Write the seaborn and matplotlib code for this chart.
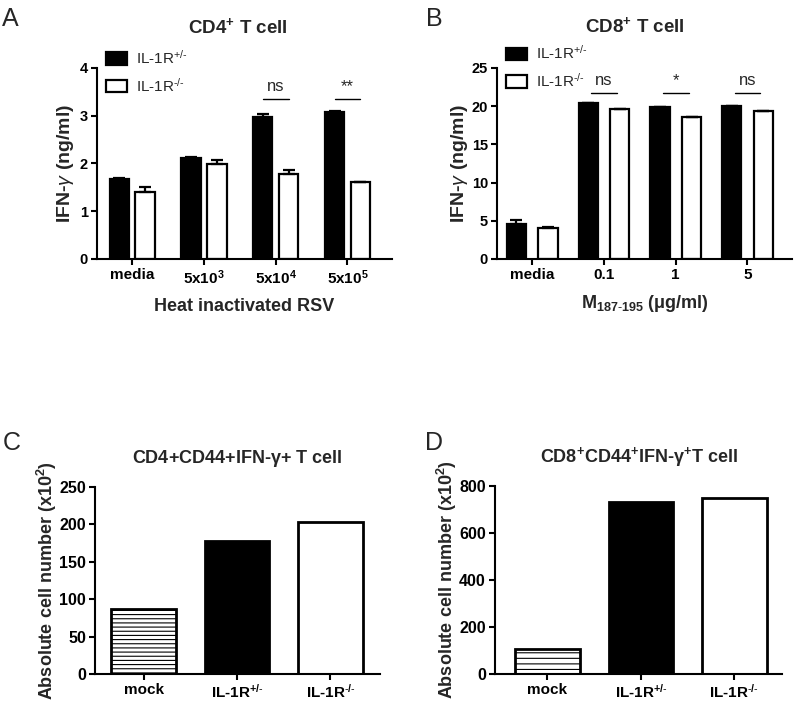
import matplotlib
matplotlib.use("Agg")
import matplotlib.pyplot as plt
import seaborn as sns
import pandas as pd
import numpy as np
from matplotlib.patches import Patch

sns.set_theme(style="ticks")
plt.rcParams['font.family'] = ['Liberation Sans', 'DejaVu Sans']
plt.rcParams['mathtext.default'] = 'regular'
plt.rcParams['mathtext.fontset'] = 'custom'
plt.rcParams['mathtext.it'] = 'Liberation Sans:italic'
plt.rcParams['mathtext.rm'] = 'Liberation Sans'
plt.rcParams['hatch.linewidth'] = 0.8

# ---------------- data ----------------
genotypes = ["IL-1R$^{+/\\text{-}}$", "IL-1R$^{\\text{-}/\\text{-}}$"]

a_groups = ["media", "5x10$^{3}$", "5x10$^{4}$", "5x10$^{5}$"]
a_het = [1.68, 2.11, 2.97, 3.08]
a_het_err = [0.02, 0.03, 0.06, 0.02]
a_ko = [1.40, 1.99, 1.79, 1.61]
a_ko_err = [0.10, 0.08, 0.08, 0.01]
a_sig = {2: "ns", 3: "**"}

b_groups = ["media", "0.1", "1", "5"]
b_het = [4.58, 20.37, 19.9, 20.0]
b_het_err = [0.5, 0.05, 0.05, 0.05]
b_ko = [4.0, 19.63, 18.6, 19.33]
b_ko_err = [0.15, 0.05, 0.05, 0.05]
b_sig = {1: "ns", 2: "*", 3: "ns"}

cd_cats = ["mock", "IL-1R$^{+/\\text{-}}$", "IL-1R$^{\\text{-}/\\text{-}}$"]
c_vals = [87, 178, 203]
d_vals = [105, 732, 750]

colors = {genotypes[0]: "black", genotypes[1]: "white"}

W, H = 796, 705
fig = plt.figure(figsize=(W / 100, H / 100), dpi=100)

def axes_px(left, top, right, bottom):
    return fig.add_axes([left / W, 1 - bottom / H, (right - left) / W, (bottom - top) / H])

axA = axes_px(97, 68, 392, 259)
axB = axes_px(497, 68, 792, 259)
axC = axes_px(95, 487, 380, 674)
axD = axes_px(495, 486, 782, 674)

lw = 1.5

def style_axes(ax, ysize, xsize):
    sns.despine(ax=ax)
    for s in ["left", "bottom"]:
        ax.spines[s].set_linewidth(lw)
        ax.spines[s].set_color("black")
    ax.tick_params(axis="both", direction="out", length=4.5, width=lw, colors="black", pad=2)
    ax.tick_params(axis="y", labelsize=ysize)
    ax.tick_params(axis="x", labelsize=xsize)
    for lab in ax.get_xticklabels() + ax.get_yticklabels():
        lab.set_fontweight("bold")

def grouped(ax, groups, het, het_err, ko, ko_err, width, gap, ylim, yticks, sig, sig_y, txt_y, ypad):
    df = pd.DataFrame({
        "group": groups * 2,
        "genotype": [genotypes[0]] * len(groups) + [genotypes[1]] * len(groups),
        "value": het + ko,
    })
    sns.barplot(data=df, x="group", y="value", hue="genotype", order=groups,
                hue_order=genotypes, palette=colors, edgecolor="black", linewidth=1.6,
                width=width, gap=gap, errorbar=None, ax=ax, legend=False, saturation=1)
    for cont, errs, vals in zip(ax.containers, [het_err, ko_err], [het, ko]):
        xs = [p.get_x() + p.get_width() / 2 for p in cont]
        ax.errorbar(xs, vals, yerr=[np.zeros(len(vals)), errs], fmt="none",
                    ecolor="black", elinewidth=1.6, capsize=4.3, capthick=1.6, zorder=3)
    ax.set_ylim(*ylim)
    ax.set_yticks(yticks)
    ax.set_xlim(-0.49, len(groups) - 0.38)
    for i, t in sig.items():
        ax.plot([i - 0.18, i + 0.18], [sig_y, sig_y], color="black", lw=1.0)
        ax.text(i, txt_y, t, ha="center", va="center", fontsize=12)
    ax.set_ylabel("IFN-$\\mathit{\\gamma}$ (ng/ml)", fontsize=14, fontweight="bold", labelpad=ypad)
    style_axes(ax, 10.5, 11)

grouped(axA, a_groups, a_het, a_het_err, a_ko, a_ko_err, 0.72, 0.25, (0, 4), [0, 1, 2, 3, 4],
        a_sig, 3.35, 3.62, 3)
axA.set_xlabel("Heat inactivated RSV", fontsize=13, fontweight="bold", labelpad=8)

grouped(axB, b_groups, b_het, b_het_err, b_ko, b_ko_err, 0.88, 0.39, (0, 25), [0, 5, 10, 15, 20, 25],
        b_sig, 21.7, 23.4, 1)
axB.set_xlabel("M$_{187\\text{-}195}$ ($\\mu$g/ml)", fontsize=13, fontweight="bold", labelpad=8)

legend_handles = [Patch(facecolor=colors[g], edgecolor="black", linewidth=1.6, label=g) for g in genotypes]
axA.legend(handles=legend_handles, loc="upper left", bbox_to_anchor=(0.03, 1.10), frameon=False,
           fontsize=11, handlelength=1.4, handleheight=0.85, handletextpad=0.6, labelspacing=0.65,
           borderpad=0, borderaxespad=0)
axB.legend(handles=legend_handles, loc="upper left", bbox_to_anchor=(0.03, 1.125), frameon=False,
           fontsize=11, handlelength=1.4, handleheight=0.85, handletextpad=0.6, labelspacing=0.65,
           borderpad=0, borderaxespad=0)

axA.text(0.478, 1.215, "CD4$^{+}$ T cell", transform=axA.transAxes, ha="center", va="center",
         fontsize=13.5, fontweight="bold")
axB.text(0.468, 1.22, "CD8$^{+}$ T cell", transform=axB.transAxes, ha="center", va="center",
         fontsize=13.5, fontweight="bold")

def single(ax, vals, ylim, yticks, hatch, title, xlim, ypad):
    sns.barplot(x=cd_cats, y=vals, hue=cd_cats, palette=["white", "black", "white"],
                edgecolor="black", linewidth=2.0, width=0.69, errorbar=None, ax=ax,
                legend=False, saturation=1)
    ax.patches[0].set_hatch(hatch)
    ax.set_ylim(*ylim)
    ax.set_yticks(yticks)
    ax.set_xlim(*xlim)
    ax.set_ylabel("Absolute cell number (x10$^{2}$)", fontsize=13, fontweight="bold", labelpad=ypad)
    ax.text(0.5, 1.155, title, transform=ax.transAxes, ha="center", va="center",
            fontsize=13, fontweight="bold")
    style_axes(ax, 11.5, 11)

single(axC, c_vals, (0, 250), [0, 50, 100, 150, 200, 250], "----",
       "CD4+CD44+IFN-$\\gamma$+ T cell", (-0.52, 2.53), 0)
single(axD, d_vals, (0, 800), [0, 200, 400, 600, 800], "---",
       "CD8$^{+}$CD44$^{+}$IFN-$\\gamma^{+}$T cell", (-0.56, 2.51), 0)

for x, y, t in [(2, 26, "A"), (426, 26, "B"), (3, 450, "C"), (425, 450, "D")]:
    fig.text(x / W, 1 - y / H, t, ha="left", va="baseline", fontsize=18)

fig.savefig("out.png", dpi=100)
